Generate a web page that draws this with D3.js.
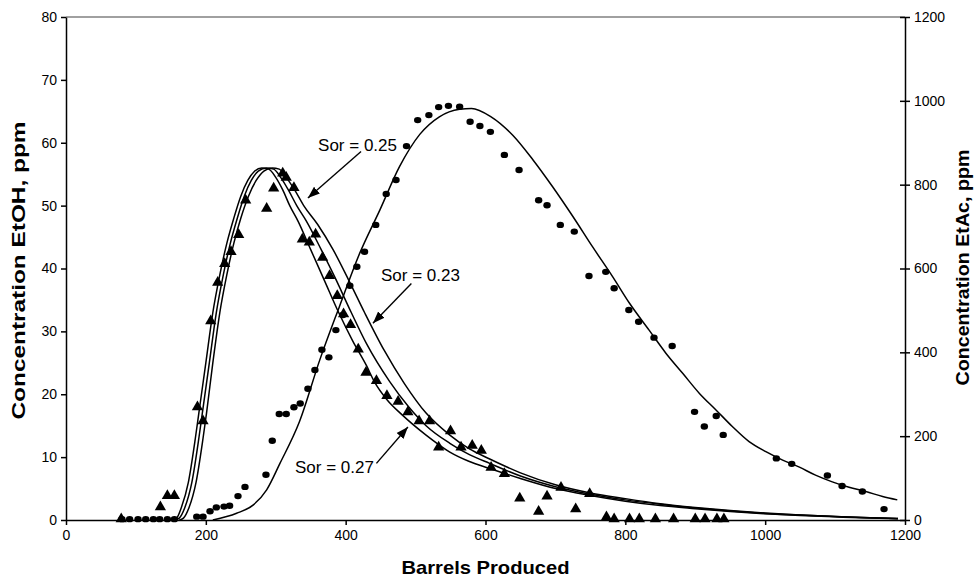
<!DOCTYPE html>
<html>
<head>
<meta charset="UTF-8">
<title>EtOH / EtAc tracer curves</title>
<script src="https://cdn.jsdelivr.net/npm/d3@7"></script>
<style type="text/css">
body, html {
    margin: 0;
    background: #fff;
}
.axis text {
    font: 14px "Liberation Sans", Arial, sans-serif;
    fill: #000;
}
.axis path, .axis line {
    stroke: #000;
    stroke-width: 1.5px;
}
.title {
    font: bold 19px "Liberation Sans", Arial, sans-serif;
}
.note {
    font: 17px "Liberation Sans", Arial, sans-serif;
}
</style>
</head>
<body>
<div class="chart"></div>
<script type="text/javascript">
// measured EtOH (left axis), [barrels, ppm]
var etohObs = [
    [79,0],[135,1.9],[145,3.7],[155,3.7],[188,17.8],[196,15.6],[207,31.5],[217,37.6],
    [227,40.6],[236,42.5],[247,45.2],[257,50.7],[287,49.4],[297,52.6],[310,55],[315,54.3],
    [326,52.7],[338,44.5],[348,44],[357,45.3],[367,41.6],[377,38.7],[388,35.5],[397,32.6],
    [407,30.9],[418,27],[429,23.3],[444,22],[459,19.6],[475,18.7],[489,17],[505,15.6],
    [520,15.6],[533,11.4],[550,14],[565,11.4],[581,11.7],[594,10.9],[608,8.2],[627,7.2],
    [649,3.3],[676,1.2],[688,3.6],[708,5],[729,1.6],[749,4],[773,0.3],[784,0],[806,0],
    [820,0],[843,0],[869,0],[900,0],[914,0],[931,0],[941,0]
];

// measured EtAc (right axis), [barrels, ppm]
var etacObs = [
    [80,2],[91,2],[103,2],[114,2],[125,2],[134,2],[145,2],[155,2],[187,8],[196,8],
    [206,21],[215,30],[226,32],[234,34],[246,57],[256,79],[286,108],[295,189],[305,253],
    [315,253],[326,269],[335,278],[346,313],[356,358],[366,406],[376,388],[386,453],
    [396,489],[406,559],[416,604],[427,640],[443,704],[458,778],[472,811],[487,892],
    [503,954],[519,966],[533,985],[547,988],[563,986],[578,950],[592,940],[607,926],
    [627,871],[648,835],[676,763],[688,751],[707,704],[727,688],[748,582],[772,592],
    [784,553],[805,501],[819,473],[841,435],[867,415],[899,258],[913,223],[930,248],
    [940,203],[1016,147],[1038,134],[1089,106],[1110,81],[1139,68],[1170,26]
];

// model EtOH curves, one per residual oil saturation
var sor27 = [
    [150,0],[158,0.3],[165,2],[175,6],[185,13],[190,17],[200,25],[210,33],[220,39],
    [230,44],[240,48],[250,51.5],[260,54],[270,55.5],[280,56],[290,55.8],[300,54.5],
    [310,52.5],[320,50],[332,47.5],[350,43],[370,38],[390,33],[410,28.5],[430,24.5],
    [441,22],[460,19],[480,16.8],[515,13.5],[549,10.8],[577,9.3],[606,8.2],[650,6.6],
    [700,5],[750,3.9],[800,3],[850,2.3],[900,1.8],[950,1.35],[1000,1],[1050,0.72],
    [1100,0.5],[1150,0.3],[1190,0.2]
];
var sor25 = [
    [155,0],[162,0.3],[170,2],[180,6],[190,13],[195,17],[205,25],[215,33],[225,39],
    [235,44],[245,48],[255,51.5],[265,54],[275,55.5],[287,56],[297,55.8],[307,54.5],
    [318,52.5],[330,50],[344,47.5],[365,43],[385,38.5],[408,33],[430,28],[463,22],
    [490,18],[515,15],[549,12.2],[577,10.4],[606,9],[650,7],[700,5.3],[750,4.1],
    [800,3.2],[850,2.5],[900,1.9],[950,1.45],[1000,1.05],[1050,0.78],[1100,0.55],
    [1150,0.35],[1190,0.25]
];
var sor23 = [
    [162,0],[168,0.3],[176,2],[186,6],[196,13],[201,17],[210,25],[220,33],[230,39],
    [240,44],[250,48],[261,51.5],[272,54],[283,55.5],[295,56],[305,55.8],[315,54.5],
    [327,52.5],[340,50],[360,47],[382,43],[405,38],[427,33],[455,27],[484,21.7],
    [515,17],[549,13.5],[577,11.3],[606,9.7],[650,7.5],[700,5.6],[750,4.3],[800,3.4],
    [850,2.6],[900,2],[950,1.5],[1000,1.1],[1050,0.8],[1100,0.55],[1150,0.35],[1190,0.25]
];

// model EtAc curve (right axis)
var etacModel = [
    [210,0],[244,16],[268,36],[287,72],[306,135],[334,235],[363,382],[391,509],
    [420,636],[449,740],[477,843],[506,920],[534,962],[563,980],[580,982],[608,962],
    [639,918],[668,859],[696,795],[725,724],[753,652],[782,580],[806,517],[834,453],
    [858,398],[882,350],[906,302],[930,262],[953,223],[977,187],[1001,163],[1025,143],
    [1049,126],[1072,107],[1096,91],[1120,78],[1144,68],[1168,56],[1189,48]
];

// labels: text centre, arrow start and arrow tip, in barrels / EtOH ppm
var notes = [
    {label: "Sor = 0.25", tx: 417, ty: 59.6, fx: 422, fy: 58.6, ax: 346, ay: 51.2},
    {label: "Sor = 0.23", tx: 507, ty: 39.0, fx: 494, fy: 37.6, ax: 439, ay: 31.3},
    {label: "Sor = 0.27", tx: 384, ty: 8.5,  fx: 444, fy: 9.0,  ax: 489, ay: 14.8}
];

var xTicks = [0, 200, 400, 600, 800, 1000, 1200];
var yLeftTicks = [0, 10, 20, 30, 40, 50, 60, 70, 80];
var yRightTicks = [0, 200, 400, 600, 800, 1000, 1200];

var margin = {top: 17, right: 74, bottom: 61, left: 66},
    width  = 979 - margin.left - margin.right,
    height = 581 - margin.top - margin.bottom;

var x  = d3.scaleLinear().domain([0, 1200]).range([0, width]),
    yL = d3.scaleLinear().domain([0, 80]).range([height, 0]),
    yR = d3.scaleLinear().domain([0, 1200]).range([height, 0]);

var fmt = d3.format("d");

var svg = d3.select(".chart")
    .append("svg")
    .attr("width", 979)
    .attr("height", 581)
    .append("g")
    .attr("transform", "translate(" + margin.left + "," + margin.top + ")");

svg.append("defs").append("marker")
    .attr("id", "head")
    .attr("viewBox", "0 0 12 10")
    .attr("refX", 12).attr("refY", 5)
    .attr("markerWidth", 12).attr("markerHeight", 10)
    .attr("markerUnits", "userSpaceOnUse")
    .attr("orient", "auto")
    .append("path")
    .attr("d", "M0,0.5 L12,5 L0,9.5 z")
    .attr("fill", "#000");

// top border
svg.append("line")
    .attr("x1", 0).attr("x2", width)
    .attr("y1", 0).attr("y2", 0)
    .attr("stroke", "#808080")
    .attr("stroke-width", 1.5);

svg.append("g")
    .attr("class", "x axis")
    .attr("transform", "translate(0," + height + ")")
    .call(d3.axisBottom(x).tickValues(xTicks).tickFormat(fmt).tickSize(5).tickSizeOuter(0).tickPadding(5));

svg.append("g")
    .attr("class", "y axis")
    .call(d3.axisLeft(yL).tickValues(yLeftTicks).tickFormat(fmt).tickSize(5).tickSizeOuter(0).tickPadding(4));

var right = svg.append("g")
    .attr("class", "y axis")
    .attr("transform", "translate(" + width + ",0)")
    .call(d3.axisRight(yR).tickValues(yRightTicks).tickFormat(fmt).tickSize(5).tickSizeOuter(0).tickPadding(4));
right.selectAll(".tick line").attr("x1", -5);

// model lines
var lineL = d3.line()
    .x(function (d) { return x(d[0]); })
    .y(function (d) { return yL(d[1]); })
    .curve(d3.curveMonotoneX);
var lineR = d3.line()
    .x(function (d) { return x(d[0]); })
    .y(function (d) { return yR(d[1]); })
    .curve(d3.curveMonotoneX);

[sor23, sor25, sor27].forEach(function (s) {
    svg.append("path")
        .datum(s)
        .attr("d", lineL)
        .attr("fill", "none")
        .attr("stroke", "#000")
        .attr("stroke-width", 1.5);
});

svg.append("path")
    .datum(etacModel)
    .attr("d", lineR)
    .attr("fill", "none")
    .attr("stroke", "#000")
    .attr("stroke-width", 1.5);

// observations
svg.selectAll(".tri")
    .data(etohObs)
    .enter()
    .append("path")
    .attr("class", "tri")
    .attr("d", d3.symbol().type(d3.symbolTriangle).size(55))
    .attr("transform", function (d) {
        return "translate(" + x(d[0]) + "," + (yL(d[1]) - 1) + ")";
    })
    .attr("fill", "#000");

svg.selectAll(".dot")
    .data(etacObs)
    .enter()
    .append("ellipse")
    .attr("class", "dot")
    .attr("cx", function (d) { return x(d[0]); })
    .attr("cy", function (d) { return yR(d[1]); })
    .attr("rx", 3.7)
    .attr("ry", 3.2)
    .attr("fill", "#000");

// Sor annotations
notes.forEach(function (n) {
    svg.append("text")
        .attr("class", "note")
        .attr("x", x(n.tx))
        .attr("y", yL(n.ty))
        .attr("dy", "0.35em")
        .attr("text-anchor", "middle")
        .text(n.label);
    svg.append("line")
        .attr("x1", x(n.fx)).attr("y1", yL(n.fy))
        .attr("x2", x(n.ax)).attr("y2", yL(n.ay))
        .attr("stroke", "#000")
        .attr("stroke-width", 1.4)
        .attr("marker-end", "url(#head)");
});

// axis titles
svg.append("text")
    .attr("class", "title")
    .attr("x", width / 2)
    .attr("y", height + 54)
    .attr("text-anchor", "middle")
    .attr("textLength", 168)
    .attr("lengthAdjust", "spacingAndGlyphs")
    .text("Barrels Produced");

svg.append("text")
    .attr("class", "title")
    .attr("transform", "translate(" + (-48) + "," + (height / 2 + 2) + ") rotate(-90)")
    .attr("dy", "0.35em")
    .attr("text-anchor", "middle")
    .attr("textLength", 298)
    .attr("lengthAdjust", "spacingAndGlyphs")
    .text("Concentration EtOH, ppm");

svg.append("text")
    .attr("class", "title")
    .attr("transform", "translate(" + (width + 57) + "," + (height / 2 - 1) + ") rotate(-90)")
    .attr("dy", "0.35em")
    .attr("text-anchor", "middle")
    .attr("textLength", 236)
    .attr("lengthAdjust", "spacingAndGlyphs")
    .text("Concentration EtAc, ppm");
</script>
</body>
</html>
